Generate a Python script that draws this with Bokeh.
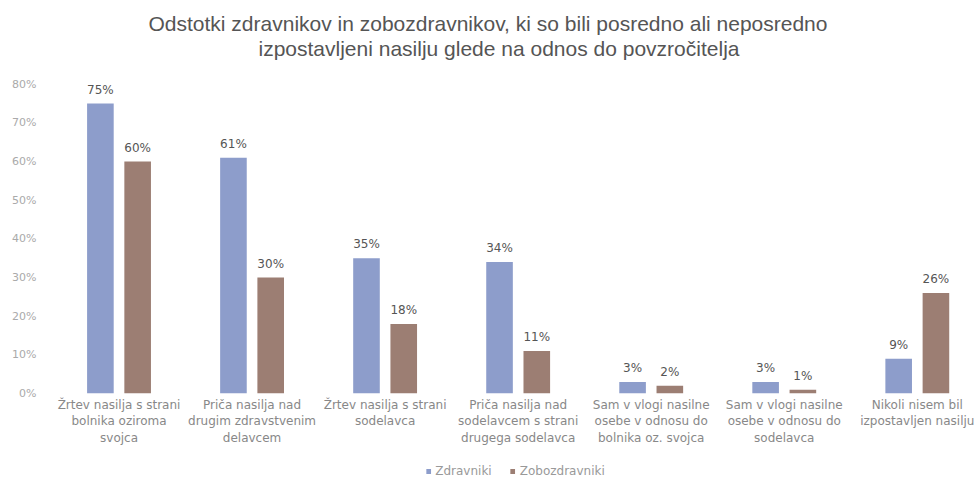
from bokeh.plotting import figure
from bokeh.layouts import column
from bokeh.models import Range1d, FixedTicker, ColumnDataSource, Legend, LegendItem, Title
from bokeh.core.properties import value
from bokeh.embed import file_html
from bokeh.resources import INLINE

categories = [
    "Žrtev nasilja s strani\nbolnika oziroma\nsvojca",
    "Priča nasilja nad\ndrugim zdravstvenim\ndelavcem",
    "Žrtev nasilja s strani\nsodelavca",
    "Priča nasilja nad\nsodelavcem s strani\ndrugega sodelavca",
    "Sam v vlogi nasilne\nosebe v odnosu do\nbolnika oz. svojca",
    "Sam v vlogi nasilne\nosebe v odnosu do\nsodelavca",
    "Nikoli nisem bil\nizpostavljen nasilju",
]
zdravniki = [75, 61, 35, 34, 3, 3, 9]
zobozdravniki = [60, 30, 18, 11, 2, 1, 26]
series_names = ["Zdravniki", "Zobozdravniki"]
y_ticks = [0, 10, 20, 30, 40, 50, 60, 70, 80]
title_lines = ["Odstotki zdravnikov in zobozdravnikov, ki so bili posredno ali neposredno",
               "izpostavljeni nasilju glede na odnos do povzročitelja"]

BLUE = "#8d9dcb"
BROWN = "#9c7e73"
TFONT = "Liberation Sans"
FONT = "DejaVu Sans"

idx = list(range(len(categories)))
src1 = ColumnDataSource(dict(x=[i - 0.14 for i in idx], top=zdravniki,
                             lab=[f"{v}%" for v in zdravniki]))
src2 = ColumnDataSource(dict(x=[i + 0.14 for i in idx], top=zobozdravniki,
                             lab=[f"{v}%" for v in zobozdravniki]))

p = figure(frame_width=926, frame_height=317, output_backend="svg", toolbar_location=None,
           x_range=Range1d(-0.5, 6.46), y_range=Range1d(0, 82),
           min_border_left=52, min_border_right=0, min_border_top=76,
           min_border_bottom=58)
p.outline_line_color = None
p.background_fill_color = "white"
p.border_fill_color = "white"
p.xgrid.visible = False
p.ygrid.visible = False

# title: p.title is outermost; added "above" items stack from the frame upwards
p.title.text = title_lines[0]
p.title.align = "left"
p.title.offset = 96
p.title.text_font = TFONT
p.title.text_font_size = "21px"
p.title.text_font_style = "normal"
p.title.text_color = "#555555"
p.title.standoff = 0
top_spacer = Title(text=" ", text_font_size="1px", standoff=14)
p.add_layout(top_spacer, "above")
t2 = Title(text=title_lines[1], align="left", offset=206, text_font=TFONT,
           text_font_size="21px", text_font_style="normal", text_color="#555555",
           standoff=0)
p.add_layout(t2, "above")

r1 = p.vbar(x="x", top="top", width=0.2, source=src1, fill_color=BLUE, line_color=None)
r2 = p.vbar(x="x", top="top", width=0.2, source=src2, fill_color=BROWN, line_color=None)

for s in (src1, src2):
    p.text(x="x", y="top", text="lab", source=s, y_offset=-7,
           text_align="center", text_baseline="bottom",
           text_font=value(FONT), text_font_size="12px", text_color="#555555")

p.xaxis.ticker = FixedTicker(ticks=idx)
p.xaxis.major_label_overrides = {i: c for i, c in zip(idx, categories)}
p.xaxis.axis_line_color = None
p.xaxis.major_tick_line_color = None
p.xaxis.minor_tick_line_color = None
p.xaxis.major_tick_out = 0
p.xaxis.major_tick_in = 0
p.xaxis.minor_tick_out = 0
p.xaxis.axis_label_standoff = 0
p.xaxis.major_label_text_font = FONT
p.xaxis.major_label_text_font_size = "12px"
p.xaxis.major_label_text_color = "#888888"
p.xaxis.major_label_standoff = 4

p.yaxis.ticker = FixedTicker(ticks=y_ticks)
p.yaxis.major_label_overrides = {t: f"{t}%" for t in y_ticks}
p.yaxis.axis_line_color = None
p.yaxis.major_tick_line_color = None
p.yaxis.minor_tick_line_color = None
p.yaxis.major_label_text_font = FONT
p.yaxis.major_label_text_font_size = "11px"
p.yaxis.major_label_text_color = "#aaaaaa"
p.yaxis.major_label_standoff = 10

# separate strip for the legend below the category labels
lf = figure(width=978, height=28, output_backend="svg", toolbar_location=None,
            x_range=Range1d(0, 1), y_range=Range1d(0, 1),
            x_axis_location=None, y_axis_location=None,
            min_border_left=30, min_border_right=0, min_border_top=0, min_border_bottom=0)
lf.outline_line_color = None
lf.xgrid.visible = False
lf.ygrid.visible = False
# zero-height legend keys (nothing visible is drawn in the strip itself)
key_src = ColumnDataSource(dict(x=[0.5], top=[0]))
lr1 = lf.vbar(x="x", top="top", width=0.001, source=key_src, fill_color=BLUE, line_color=None)
lr2 = lf.vbar(x="x", top="top", width=0.001, source=key_src, fill_color=BROWN, line_color=None)
legend = Legend(items=[LegendItem(label=series_names[0], renderers=[lr1]),
                       LegendItem(label=series_names[1], renderers=[lr2])],
                orientation="horizontal", location="bottom_center",
                glyph_width=6, glyph_height=6, label_height=14, label_text_font=FONT,
                label_text_font_size="12px", label_text_color="#999999",
                border_line_color=None, background_fill_alpha=0,
                spacing=18, padding=0, margin=1, label_standoff=4)
lf.add_layout(legend, "center")

open("out.html", "w").write(file_html(column(p, lf, spacing=0), INLINE))
